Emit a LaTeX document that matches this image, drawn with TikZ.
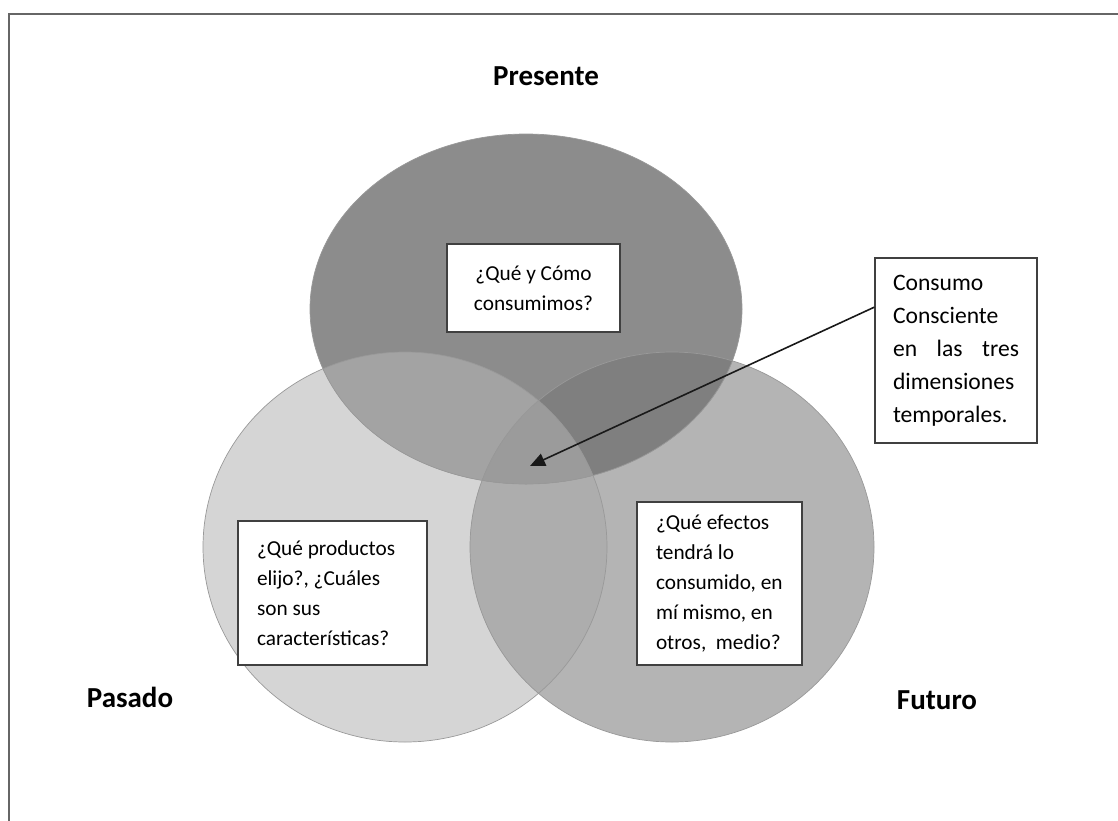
\documentclass[tikz,border=0pt]{standalone}
\usepackage{fontspec}
\setmainfont{Carlito}
\usepackage{xcolor}
\usetikzlibrary{arrows.meta}
\definecolor{pasadogris}{HTML}{D5D5D5}
\definecolor{futurogris}{HTML}{B4B4B4}
\definecolor{presentegris}{HTML}{8C8C8C}
\definecolor{prepasgris}{HTML}{A3A3A3}
\definecolor{prefutgris}{HTML}{7F7F7F}
\definecolor{pasfutgris}{HTML}{ADADAD}
\definecolor{trigris}{HTML}{9B9B9B}
\def\elipre{(pre) ellipse [x radius=216pt, y radius=175pt]}
\def\elipas{(pas) ellipse [x radius=202pt, y radius=195pt]}
\def\elifut{(fut) ellipse [x radius=202pt, y radius=195pt]}
\tikzset{
	caja/.style={draw=black!75, line width=1.2pt, fill=white, inner xsep=19pt, inner ysep=0pt,
			align=flush left, font=\fontsize{21.3}{30}\selectfont},
	etiqueta/.style={font=\fontsize{29}{34}\selectfont\bfseries},
	borde/.style={draw=black!40, line width=0.7pt}
}

\begin{document}
\begin{tikzpicture}[x=1pt, y=-1pt]
	\useasboundingbox (0,0) rectangle (1118,820);
	\clip (0,0) rectangle (1118,820);

	% Draw the outer frame
	\draw[line width=2pt, black!60] (9,14) rectangle (1140,840);

	% Centres of the three circles
	\coordinate (pre) at (526,309);
	\coordinate (pas) at (405,547);
	\coordinate (fut) at (672,547);

	% Fill the circles
	\fill[pasadogris] \elipas;
	\fill[futurogris] \elifut;
	\fill[presentegris] \elipre;

	% Shade the overlaps
	\begin{scope}
		\clip \elipas;
		\fill[pasfutgris] \elifut;
	\end{scope}
	\begin{scope}
		\clip \elipre;
		\fill[prepasgris] \elipas;
		\fill[prefutgris] \elifut;
		\clip \elipas;
		\fill[trigris] \elifut;
	\end{scope}
	\path[borde] \elipas;
	\path[borde] \elifut;
	\path[borde] \elipre;

	% Label the circles
	\node[etiqueta] (presente) at (546,76) {Presente};
	\node[etiqueta] (pasado) at (130,697) {Pasado};
	\node[etiqueta] (futuro) at (937,700) {Futuro};

	% Question boxes
	\node[caja, align=center, minimum width=173pt, minimum height=88pt] (qpre) at (533.5,288)
		{¿Qué y Cómo\\consumimos?};
	\node[caja, text width=151pt, minimum height=144pt] (qpas) at (332.5,593)
		{¿Qué productos\\elijo?, ¿Cuáles\\son sus\\características?};
	\node[caja, text width=127pt, minimum height=163pt] (qfut) at (719.5,583.5)
		{¿Qué efectos\\tendrá lo\\consumido,~en\\mí mismo, en\\otros,~~medio?};
	\node[caja, text width=126pt, inner xsep=18pt, minimum height=185pt,
		font=\fontsize{23.6}{33}\selectfont] (consumo) at (956,350.5)
		{Consumo\\Consciente\\en\hfill las\hfill tres\\dimensiones\\temporales.};

	% Arrow into the common centre
	\coordinate (centro) at (530,466);
	\draw[line width=1.6pt, black!90, -{Triangle[length=15pt, width=13pt]}] (consumo.152) -- (centro);
\end{tikzpicture}
\end{document}
